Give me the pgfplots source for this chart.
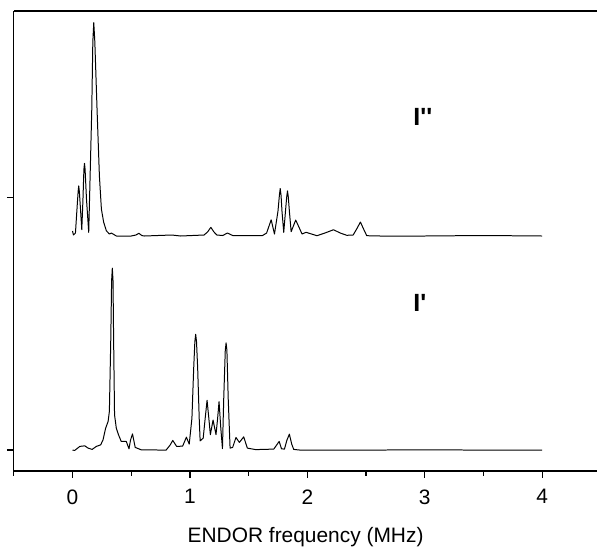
\documentclass[border=0pt]{standalone}
\usepackage{pgfplots}
\pgfplotsset{compat=1.18}
\usepackage{fontspec}
\setmainfont{Liberation Sans}

\begin{document}
\begin{tikzpicture}
\begin{axis}[
    name=ax,
    scale only axis,
    width=586pt, height=462pt,
    xmin=-0.5, xmax=4.47,
    ymin=-21, ymax=441,
    axis x line=box,
    axis y line*=left,
    axis line style={line width=1.3pt},
    xtick={0,1,2,3,4},
    minor xtick={-0.5,0.5,1.5,2.5,3.5},
    xtick pos=bottom,
    ytick={0,254},
    yticklabels={},
    ytick pos=left,
    tick align=outside,
    major tick length=7pt,
    minor tick length=5pt,
    tick style={line width=1.3pt, black},
    /pgf/number format/assume math mode=true,
    xticklabel style={font=\fontsize{21}{25}\selectfont, yshift=-8pt},
    xlabel={ENDOR frequency (MHz)},
    xlabel style={font=\fontsize{21}{25}\selectfont, at={(rel axis cs:0.5,0)}, anchor=base, yshift=-72pt},
    clip=false,
]
% upper spectrum (I'')
\addplot[black, line width=1pt, line join=round] coordinates {
(0.000,220) (0.008,216) (0.025,218) (0.038,242) (0.048,260) (0.053,265.3) (0.058,260) (0.068,242) (0.079,221.3)
(0.089,252) (0.097,282) (0.102,288) (0.107,282) (0.119,252) (0.138,218.7) (0.164,342) (0.173,410) (0.181,429.3)
(0.190,410) (0.209,342) (0.229,275.3) (0.246,242) (0.265,229) (0.288,220.3) (0.314,217) (0.331,218)
(0.373,215) (0.5,215) (0.54,216) (0.565,217.7) (0.59,215.5) (0.61,215) (0.845,216) (0.92,215)
(1.12,216) (1.15,219) (1.178,223.7) (1.205,219) (1.229,216) (1.28,215.5) (1.319,218) (1.364,215.5)
(1.619,215.5) (1.653,218) (1.692,231.3) (1.720,217) (1.75,240) (1.762,256) (1.769,262.7) (1.776,256) (1.784,240)
(1.799,218.7) (1.814,240) (1.824,254) (1.831,260.3) (1.838,254) (1.847,240) (1.862,219.3) (1.901,231) (1.955,217)
(1.989,218.7) (2.082,215.3) (2.15,218) (2.223,221.3) (2.28,218) (2.336,215.7) (2.39,216)
(2.42,222) (2.452,229) (2.483,221) (2.506,215.3) (2.62,215) (3.0,215) (3.5,215.5) (4.0,215)
};
% lower spectrum (I')
\addplot[black, line width=1pt, line join=round] coordinates {
(0,0) (0.019,-0.3) (0.062,3.7) (0.104,4.3) (0.133,2) (0.167,0.7) (0.203,3.7) (0.240,5.3)
(0.260,10.3) (0.282,22) (0.303,28.7) (0.314,39) (0.326,112) (0.333,170) (0.339,182.7) (0.345,170) (0.350,112)
(0.358,35.3) (0.373,22) (0.392,15.3) (0.415,8.7) (0.458,8.7) (0.481,1.3) (0.494,10)
(0.511,16.3) (0.534,2.7) (0.585,0.3) (0.797,0) (0.831,5) (0.854,9.7) (0.887,3.7) (0.938,4)
(0.970,13) (0.994,6) (1.017,32) (1.032,82) (1.042,109) (1.049,116.3) (1.056,109) (1.066,82) (1.079,32) (1.087,9.3)
(1.113,12) (1.130,32) (1.146,50) (1.161,32) (1.174,15.5) (1.197,30.2) (1.222,15.5)
(1.236,32) (1.248,48.7) (1.263,22) (1.277,1.5) (1.288,52) (1.301,100) (1.308,107.7) (1.315,100) (1.326,52)
(1.342,2) (1.364,2.7) (1.392,12.7) (1.421,7.7) (1.458,13.3) (1.489,2) (1.56,0.5)
(1.714,1) (1.760,8.7) (1.780,1.3) (1.805,1) (1.826,10) (1.847,16) (1.867,6) (1.884,0.7)
(1.94,0) (2.5,0) (3.0,0.3) (3.5,0) (4.0,0)
};
\node[anchor=base west, inner sep=0pt, font=\fontsize{25}{30}\selectfont\bfseries] at (axis cs:2.902,326) {I\textquotesingle\textquotesingle};
\node[anchor=base west, inner sep=0pt, font=\fontsize{25}{30}\selectfont\bfseries] at (axis cs:2.902,139) {I\textquotesingle};
\end{axis}
\path ([xshift=-12pt,yshift=-76pt]ax.south west) rectangle ([yshift=11pt]ax.north east);
\end{tikzpicture}
\end{document}
